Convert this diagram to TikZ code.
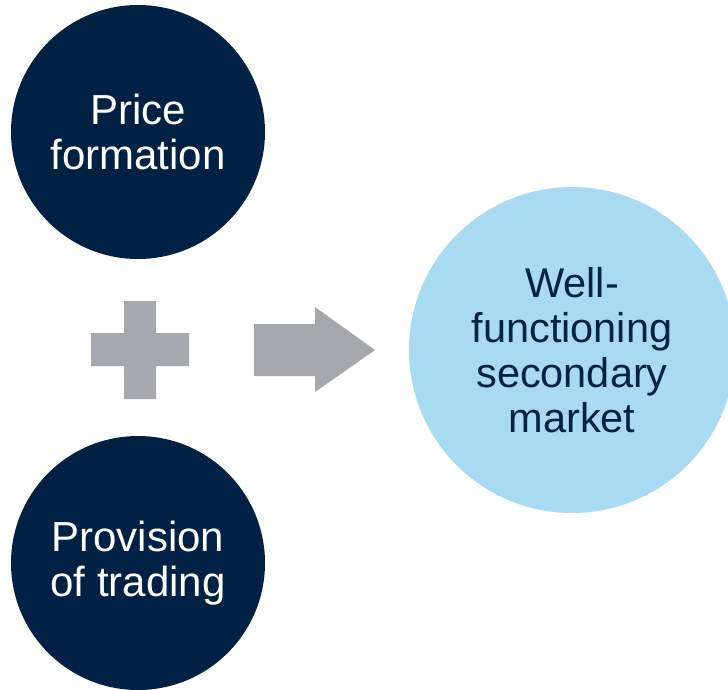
\documentclass[tikz,border=0pt]{standalone}
\usepackage{fontspec}
\setmainfont{Liberation Sans}
\definecolor{navy}{RGB}{0,32,68}
\definecolor{lightblue}{RGB}{168,218,242}
\definecolor{shapegray}{RGB}{167,168,173}
\begin{document}
\begin{tikzpicture}[x=1pt,y=-1pt,
  darkcircle/.style={circle, fill=navy, inner sep=0pt, minimum size=254pt,
    text=white, align=center, font=\fontsize{42}{45}\selectfont},
  lightcircle/.style={circle, fill=lightblue, inner sep=0pt, minimum size=326pt,
    text=navy, align=center, font=\fontsize{41.5}{45}\selectfont},
  grayshape/.style={fill=shapegray, draw=none}]
\useasboundingbox (0,0) rectangle (728,689);
\node[darkcircle] (price) at (138,132) {Price\\formation};
\node[darkcircle] (provision) at (138,563) {Provision\\of trading};
\node[lightcircle] (market) at (572,350) {Well-\\functioning\\secondary\\market};
% plus sign
\fill[grayshape] (91,333) -- (124,333) -- (124,301) -- (156,301) -- (156,333)
  -- (189,333) -- (189,366) -- (156,366) -- (156,399) -- (124,399)
  -- (124,366) -- (91,366) -- cycle;
% arrow
\fill[grayshape] (254,324) -- (315,324) -- (315,307) -- (375,350)
  -- (315,392) -- (315,376) -- (254,376) -- cycle;
\end{tikzpicture}
\end{document}
